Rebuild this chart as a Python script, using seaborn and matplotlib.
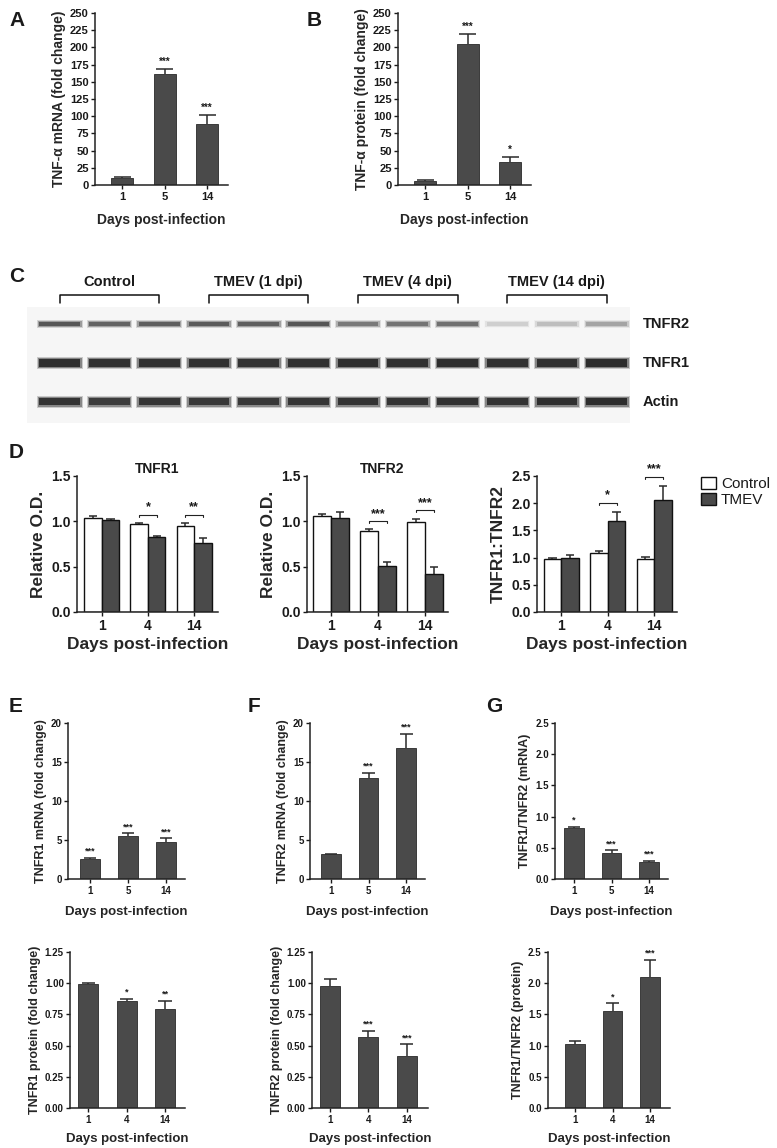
import matplotlib
matplotlib.use("Agg")
import matplotlib.pyplot as plt
from matplotlib.patches import Patch
from matplotlib.ticker import FormatStrFormatter
import numpy as np
import pandas as pd
import seaborn as sns

# ---------------- data ----------------
days_ab = ['1', '5', '14']
tnfa_mrna = [10, 161, 88]
tnfa_mrna_err = [1.5, 8, 14]
tnfa_mrna_sig = ['', '***', '***']
tnfa_prot = [6, 205, 34]
tnfa_prot_err = [1, 15, 7]
tnfa_prot_sig = ['', '***', '*']

blot_groups = ['Control', 'TMEV (1 dpi)', 'TMEV (4 dpi)', 'TMEV (14 dpi)']
blot_rows = ['TNFR2', 'TNFR1', 'Actin']
# band darkness per lane (0 = empty, 1 = black)
band_tnfr2 = [0.78, 0.72, 0.74, 0.76, 0.74, 0.78, 0.62, 0.64, 0.66, 0.22, 0.30, 0.42]
band_tnfr1 = [0.96, 0.95, 0.95, 0.95, 0.94, 0.95, 0.96, 0.95, 0.96, 0.95, 0.95, 0.97]
band_actin = [0.94, 0.90, 0.93, 0.92, 0.92, 0.93, 0.94, 0.94, 0.95, 0.94, 0.96, 0.97]

days_d = ['1', '4', '14']
d_groups = ['Control', 'TMEV']
tnfr1_od_ctrl = [1.035, 0.97, 0.95]
tnfr1_od_ctrl_err = [0.025, 0.01, 0.03]
tnfr1_od_tmev = [1.02, 0.83, 0.76]
tnfr1_od_tmev_err = [0.01, 0.005, 0.06]
tnfr1_od_sig = ['', '*', '**']
tnfr1_od_brk = [np.nan, 1.07, 1.07]

tnfr2_od_ctrl = [1.06, 0.89, 0.99]
tnfr2_od_ctrl_err = [0.02, 0.03, 0.04]
tnfr2_od_tmev = [1.04, 0.51, 0.42]
tnfr2_od_tmev_err = [0.06, 0.04, 0.08]
tnfr2_od_sig = ['', '***', '***']
tnfr2_od_brk = [np.nan, 1.00, 1.12]

ratio_od_ctrl = [0.97, 1.09, 0.97]
ratio_od_ctrl_err = [0.03, 0.04, 0.05]
ratio_od_tmev = [1.00, 1.68, 2.05]
ratio_od_tmev_err = [0.05, 0.15, 0.26]
ratio_od_sig = ['', '*', '***']
ratio_od_brk = [np.nan, 2.0, 2.48]

days_mrna = ['1', '5', '14']
tnfr1_mrna = [2.6, 5.5, 4.7]
tnfr1_mrna_err = [0.1, 0.35, 0.5]
tnfr1_mrna_sig = ['***', '***', '***']
tnfr2_mrna = [3.15, 12.9, 16.8]
tnfr2_mrna_err = [0.08, 0.75, 1.8]
tnfr2_mrna_sig = ['', '***', '***']
ratio_mrna = [0.82, 0.42, 0.27]
ratio_mrna_err = [0.02, 0.04, 0.02]
ratio_mrna_sig = ['*', '***', '***']

days_prot = ['1', '4', '14']
tnfr1_prot = [0.99, 0.86, 0.79]
tnfr1_prot_err = [0.015, 0.015, 0.07]
tnfr1_prot_sig = ['', '*', '**']
tnfr2_prot = [0.98, 0.57, 0.42]
tnfr2_prot_err = [0.055, 0.05, 0.09]
tnfr2_prot_sig = ['', '***', '***']
ratio_prot = [1.02, 1.55, 2.10]
ratio_prot_err = [0.05, 0.13, 0.27]
ratio_prot_sig = ['', '*', '***']

# ---------------- style ----------------
sns.set_theme(style="ticks")
plt.rcParams['font.family'] = ['Liberation Sans', 'DejaVu Sans']
plt.rcParams['font.weight'] = 'bold'
plt.rcParams['axes.labelweight'] = 'bold'
plt.rcParams['axes.titleweight'] = 'bold'
plt.rcParams['axes.linewidth'] = 1.1
plt.rcParams['xtick.major.width'] = 1.0
plt.rcParams['ytick.major.width'] = 1.0
plt.rcParams['xtick.major.size'] = 3
plt.rcParams['ytick.major.size'] = 3
plt.rcParams['xtick.major.pad'] = 2
plt.rcParams['ytick.major.pad'] = 1.5
plt.rcParams['axes.edgecolor'] = '#222222'
plt.rcParams['text.color'] = '#1a1a1a'
plt.rcParams['xtick.color'] = '#1a1a1a'
plt.rcParams['ytick.color'] = '#1a1a1a'

W, H = 777, 1148
BAR = '#4a4a4a'
EDGE = '#2a2a2a'

fig = plt.figure(figsize=(W / 100, H / 100), dpi=100)


def px_axes(left, right, top, bottom):
    # axes box given in pixels of the final picture
    return fig.add_axes([left / W, 1 - bottom / H, (right - left) / W, (bottom - top) / H])


def err_up(ax, xs, vals, errs, cw, lw=1.1):
    tops = np.array(vals) + np.array(errs)
    xs = np.array(xs, dtype=float)
    ax.vlines(xs, vals, tops, color=EDGE, lw=lw, zorder=1)
    ax.hlines(tops, xs - cw, xs + cw, color=EDGE, lw=lw, zorder=1)
    return tops


def finish_axis(ax, ymax, ystep, fmt, xlim, fs_tick, fs_lab, xpad):
    ax.set_ylim(0, ymax)
    ax.set_yticks(np.arange(0, ymax + ystep / 2, ystep))
    ax.yaxis.set_major_formatter(FormatStrFormatter(fmt))
    ax.set_xlim(*xlim)
    ax.tick_params(labelsize=fs_tick)
    ax.set_xlabel('Days post-infection', fontsize=fs_lab, labelpad=xpad)
    sns.despine(ax=ax)


def single_panel(box, days, vals, errs, sig, ylabel, ymax, ystep, fmt, xlim,
                 fs_tick, fs_ylab, fs_xlab, fs_star, xpad, width=0.52, cw=0.17):
    ax = px_axes(*box)
    df = pd.DataFrame({'day': days, 'value': vals})
    err_up(ax, range(len(days)), vals, errs, cw)
    sns.barplot(data=df, x='day', y='value', color=BAR, saturation=1, width=width,
                edgecolor=EDGE, linewidth=0.6, errorbar=None, ax=ax, zorder=2)
    tops = np.array(vals) + np.array(errs)
    for i, s in enumerate(sig):
        if s:
            ax.annotate(s, (i, tops[i]), xytext=(0, 1.5), textcoords='offset points',
                        ha='center', va='bottom', fontsize=fs_star)
    finish_axis(ax, ymax, ystep, fmt, xlim, fs_tick, fs_xlab, xpad)
    ax.set_ylabel(ylabel, fontsize=fs_ylab, labelpad=3)
    return ax


def paired_panel(box, title, title_x, ctrl, ctrl_err, tmev, tmev_err, sig, brk,
                 ylabel, ymax, xlim):
    ax = px_axes(*box)
    df = pd.DataFrame({'day': days_d * 2,
                       'group': [d_groups[0]] * 3 + [d_groups[1]] * 3,
                       'value': ctrl + tmev})
    off = 0.19
    x = np.arange(3)
    err_up(ax, x - off, ctrl, ctrl_err, 0.09)
    err_up(ax, x + off, tmev, tmev_err, 0.09)
    sns.barplot(data=df, x='day', y='value', hue='group',
                palette={'Control': 'white', 'TMEV': BAR}, saturation=1,
                width=0.76, edgecolor='#111111', linewidth=1.0, errorbar=None,
                legend=False, ax=ax, zorder=2)
    dh = ymax * 0.015
    for i, s in enumerate(sig):
        if s:
            b = brk[i]
            ax.plot([i - off, i - off, i + off, i + off], [b - dh, b, b, b - dh],
                    color='#222222', lw=0.8)
            ax.text(i, b + ymax * 0.012, s, ha='center', va='bottom', fontsize=9)
    finish_axis(ax, ymax, 0.5, '%.1f', xlim, 10, 12.5, 3)
    ax.set_ylabel(ylabel, fontsize=12.5, labelpad=4)
    if title:
        ax.set_title(title, fontsize=10, x=title_x, pad=2)
    return ax


# ---------------- A / B ----------------
single_panel((95, 228, 13, 185), days_ab, tnfa_mrna, tnfa_mrna_err, tnfa_mrna_sig,
             'TNF-α mRNA (fold change)', 250, 25, '%d', (-0.635, 2.49),
             8, 10, 10, 7, 8, width=0.52, cw=0.2)
single_panel((398, 531, 13, 185), days_ab, tnfa_prot, tnfa_prot_err, tnfa_prot_sig,
             'TNF-α protein (fold change)', 250, 25, '%d', (-0.635, 2.49),
             8, 10, 10, 7, 8, width=0.52, cw=0.2)

# ---------------- C : western blot ----------------
axb = px_axes(27, 630, 307, 423)
axb.set_facecolor('#f6f6f6')
for s in axb.spines.values():
    s.set_visible(False)
axb.set_xticks([])
axb.set_yticks([])
axb.set_xlim(-0.66, 11.47)
axb.set_ylim(2.54, -0.44)
lanes = np.arange(12)
bands = [band_tnfr2, band_tnfr1, band_actin]
thick = [0.12, 0.19, 0.18]
for r, (name, dark) in enumerate(zip(blot_rows, bands)):
    dark = np.array(dark)
    # soft edge, then mid, then dark core of each band
    for scale, fade, wid in [(1.7, 0.22, 0.92), (1.3, 0.5, 0.88), (1.0, 0.85, 0.82)]:
        cols = [str(1 - fade * d) for d in dark]
        axb.bar(lanes, thick[r] * scale, bottom=r - thick[r] * scale / 2, width=wid,
                color=cols, linewidth=0)
    axb.text(11.72, r, name, ha='left', va='center', fontsize=10.5, clip_on=False)
for g, name in enumerate(blot_groups):
    a, b = 3 * g, 3 * g + 2
    axb.plot([a, a, b, b], [-0.55, -0.74, -0.74, -0.55], color='#111111',
             lw=1.1, clip_on=False)
    axb.text((a + b) / 2, -1.07, name, ha='center', va='center', fontsize=10.5,
             clip_on=False)

# ---------------- D ----------------
paired_panel((77, 218, 476, 612), 'TNFR1', 0.57, tnfr1_od_ctrl, tnfr1_od_ctrl_err,
             tnfr1_od_tmev, tnfr1_od_tmev_err, tnfr1_od_sig, tnfr1_od_brk,
             'Relative O.D.', 1.5, (-0.54, 2.52))
paired_panel((307, 448, 476, 612), 'TNFR2', 0.53, tnfr2_od_ctrl, tnfr2_od_ctrl_err,
             tnfr2_od_tmev, tnfr2_od_tmev_err, tnfr2_od_sig, tnfr2_od_brk,
             'Relative O.D.', 1.5, (-0.51, 2.49))
paired_panel((537, 677, 476, 612), None, 0.5, ratio_od_ctrl, ratio_od_ctrl_err,
             ratio_od_tmev, ratio_od_tmev_err, ratio_od_sig, ratio_od_brk,
             'TNFR1:TNFR2', 2.5, (-0.52, 2.49))
fig.legend(handles=[Patch(facecolor='white', edgecolor='#111111', label=d_groups[0]),
                    Patch(facecolor=BAR, edgecolor='#111111', label=d_groups[1])],
           loc='upper left', bbox_to_anchor=(701 / W, 1 - 477 / H), frameon=False,
           prop={'weight': 'normal', 'size': 11}, handlelength=1.0, handleheight=0.85,
           handletextpad=0.3, labelspacing=0.1, borderpad=0, borderaxespad=0)

# ---------------- E / F / G : mRNA ----------------
single_panel((68, 185, 723, 879), days_mrna, tnfr1_mrna, tnfr1_mrna_err, tnfr1_mrna_sig,
             'TNFR1 mRNA (fold change)', 20, 5, '%d', (-0.58, 2.5),
             7, 9, 9.5, 6.5, 7)
single_panel((310, 425, 723, 879), days_mrna, tnfr2_mrna, tnfr2_mrna_err, tnfr2_mrna_sig,
             'TNFR2 mRNA (fold change)', 20, 5, '%d', (-0.56, 2.5),
             7, 9, 9.5, 6.5, 7)
single_panel((555, 668, 723, 879), days_mrna, ratio_mrna, ratio_mrna_err, ratio_mrna_sig,
             'TNFR1/TNFR2 (mRNA)', 2.5, 0.5, '%.1f', (-0.51, 2.51),
             7, 9, 9.5, 6.5, 7)

# ---------------- E / F / G : protein ----------------
single_panel((70, 185, 952, 1108), days_prot, tnfr1_prot, tnfr1_prot_err, tnfr1_prot_sig,
             'TNFR1 protein (fold change)', 1.25, 0.25, '%.2f', (-0.47, 2.52),
             7, 9, 9.5, 6.5, 6)
single_panel((312, 428, 952, 1108), days_prot, tnfr2_prot, tnfr2_prot_err, tnfr2_prot_sig,
             'TNFR2 protein (fold change)', 1.25, 0.25, '%.2f', (-0.47, 2.55),
             7, 9, 9.5, 6.5, 6)
single_panel((548, 670, 952, 1108), days_prot, ratio_prot, ratio_prot_err, ratio_prot_sig,
             'TNFR1/TNFR2 (protein)', 2.5, 0.5, '%.1f', (-0.72, 2.53),
             7, 9, 9.5, 6.5, 6)

# ---------------- panel letters ----------------
for lab, x, y in [('A', 9, 20), ('B', 307, 20), ('C', 9, 276), ('D', 9, 452),
                  ('E', 9, 707), ('F', 248, 707), ('G', 486, 707)]:
    fig.text(x / W, 1 - y / H, lab, fontsize=15, fontweight='bold',
             ha='left', va='center')

fig.savefig('out.png', dpi=100)
